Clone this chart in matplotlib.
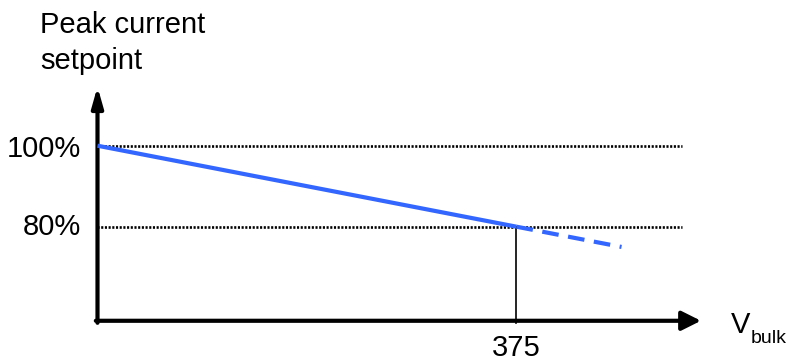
import matplotlib
matplotlib.use('Agg')
import matplotlib.pyplot as plt

plt.rcParams['font.family'] = ['Liberation Sans', 'DejaVu Sans']

# setpoint curve (V_bulk in volts, setpoint in %)
solid_v = [0, 375]
solid_pct = [100, 80]
dash_v = [375, 469]
dash_pct = [80, 75]

grid_levels = [100, 80]
grid_labels = ['100%', '80%']
knee_v = 375

BLUE = '#3366ff'

fig = plt.figure(figsize=(7.86, 3.62), dpi=100)
ax = fig.add_axes([0, 0, 1, 1])
ax.set_xlim(-87.26, 616.2)
ax.set_ylim(46.59, 135.98)
ax.axis('off')

axis_y = 56.77   # where the horizontal axis sits
x_tip = 540.1
y_tip = 114.57

# dotted reference levels
for lvl in grid_levels:
    ax.plot([0, 523], [lvl, lvl], color='black', lw=1.9,
            linestyle=(0, (0.8, 0.6)), zorder=1)

# vertical marker at the knee
ax.plot([knee_v, knee_v], [axis_y - 0.5, solid_pct[1]], color='black', lw=1.2, zorder=2)

# axes with arrow heads
ax.annotate('', xy=(x_tip, axis_y), xytext=(-1.5, axis_y),
            arrowprops=dict(arrowstyle='-|>,head_length=0.58,head_width=0.29',
                            lw=3, color='black', mutation_scale=20,
                            shrinkA=0, shrinkB=0), zorder=3)
ax.annotate('', xy=(0, y_tip), xytext=(0, axis_y - 0.5),
            arrowprops=dict(arrowstyle='-|>,head_length=0.6,head_width=0.17',
                            lw=3, color='black', mutation_scale=20,
                            shrinkA=0, shrinkB=0), zorder=3)

# the curve
ax.plot(solid_v, solid_pct, color=BLUE, lw=3, solid_capstyle='butt', zorder=4)
ax.plot(dash_v, dash_pct, color=BLUE, lw=3, linestyle=(0, (4, 2.3)),
        dash_capstyle='butt', zorder=4)

# labels
fs = 21
ax.text(-51.5, 127.75, 'Peak current', fontsize=fs, ha='left', va='baseline')
ax.text(-51.5, 118.86, 'setpoint', fontsize=fs, ha='left', va='baseline')
ax.text(-14.8, 97.14, grid_labels[0], fontsize=fs, ha='right', va='baseline')
ax.text(-14.8, 77.95, grid_labels[1], fontsize=fs, ha='right', va='baseline')
ax.text(knee_v, 48.07, str(knee_v), fontsize=fs, ha='center', va='baseline')
ax.text(566.7, 53.68, 'V', fontsize=fs, ha='left', va='baseline')
ax.text(585, 51.28, 'bulk', fontsize=14, ha='left', va='baseline')

fig.savefig('out.png', dpi=100)
